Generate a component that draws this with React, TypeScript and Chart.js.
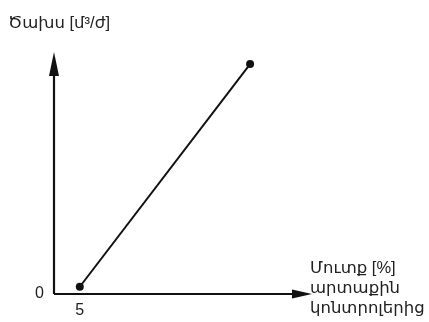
import React, { useEffect, useRef } from "react";
import { Chart, registerables } from "chart.js";

Chart.register(...registerables);

const xValues = [5, 38];
const yValues = [3, 95];
const xTickValues = [5];
const yTickValues = [0];
const yAxisTitle = "Ծախս [մ³/ժ]";
const xAxisTitleLines = ["Մուտք [%]", "արտաքին", "կոնտրոլերից"];

const FONT = "'Liberation Sans', 'DejaVu Sans', Arial, sans-serif";

const arrowsPlugin = {
  id: "arrowsAndTitles",
  afterDraw(chart: any) {
    const { ctx, chartArea } = chart;
    const { left, right, top, bottom } = chartArea;
    ctx.save();
    ctx.strokeStyle = "#111";
    ctx.fillStyle = "#111";
    ctx.lineWidth = 2.2;
    ctx.beginPath();
    ctx.moveTo(left, bottom);
    ctx.lineTo(left, top + 10);
    ctx.stroke();
    ctx.beginPath();
    ctx.moveTo(left, bottom);
    ctx.lineTo(right - 10, bottom);
    ctx.stroke();
    ctx.beginPath();
    ctx.moveTo(left, top);
    ctx.lineTo(left - 5, top + 24);
    ctx.lineTo(left + 5, top + 24);
    ctx.closePath();
    ctx.fill();
    ctx.beginPath();
    ctx.moveTo(right, bottom);
    ctx.lineTo(right - 20, bottom - 4.5);
    ctx.lineTo(right - 20, bottom + 4.5);
    ctx.closePath();
    ctx.fill();
    ctx.font = `16.5px ${FONT}`;
    ctx.fillStyle = "#222";
    ctx.textAlign = "left";
    ctx.textBaseline = "middle";
    ctx.fillText(yAxisTitle, 8, 23);
    xAxisTitleLines.forEach((t, i) => {
      ctx.fillText(t, 310, 268 + i * 20);
    });
    ctx.restore();
  },
};

export default function App() {
  const ref = useRef<HTMLCanvasElement | null>(null);
  useEffect(() => {
    document.body.style.margin = "0";
    const chart = new Chart(ref.current as HTMLCanvasElement, {
      type: "line",
      data: {
        datasets: [
          {
            data: xValues.map((x, i) => ({ x, y: yValues[i] })),
            borderColor: "#111",
            backgroundColor: "#111",
            borderWidth: 2,
            pointRadius: 4,
            pointBackgroundColor: "#111",
            pointBorderWidth: 0,
            tension: 0,
          },
        ],
      },
      options: {
        animation: false,
        responsive: false,
        events: [],
        layout: { padding: { top: 52, right: 117, left: 0, bottom: 0 } },
        plugins: { legend: { display: false }, tooltip: { enabled: false } },
        scales: {
          x: {
            type: "linear",
            min: 0,
            max: 50,
            border: { display: false },
            grid: { display: false, drawTicks: false },
            afterBuildTicks: (s: any) => {
              s.ticks = xTickValues.map((v) => ({ value: v }));
            },
            afterFit: (s: any) => {
              s.height = 28;
            },
            ticks: {
              padding: 7,
              maxRotation: 0,
              color: "#222",
              font: { family: FONT, size: 16 },
            },
          },
          y: {
            type: "linear",
            min: 0,
            max: 100,
            border: { display: false },
            grid: { display: false, drawTicks: false },
            afterBuildTicks: (s: any) => {
              s.ticks = yTickValues.map((v) => ({ value: v }));
            },
            afterFit: (s: any) => {
              s.width = 54;
            },
            ticks: {
              padding: 10,
              color: "#222",
              font: { family: FONT, size: 16 },
            },
          },
        },
      },
      plugins: [arrowsPlugin],
    });
    return () => chart.destroy();
  }, []);
  return (
    <div style={{ width: 429, height: 322, background: "#fff" }}>
      <canvas ref={ref} width={429} height={322} />
    </div>
  );
}
